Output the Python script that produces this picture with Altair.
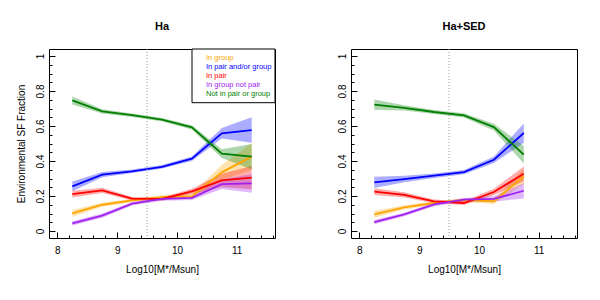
import altair as alt
import pandas as pd

# ---------------- data ----------------
series = ["In group", "In pair and/or group", "In pair", "In group not pair", "Not in pair or group"]
colors = ["#FFA500", "#0000FF", "#FF0000", "#A020F0", "#007F00"]

mass_ha = [8.25, 8.75, 9.25, 9.75, 10.25, 10.75, 11.25]
ha_group = [0.101, 0.150, 0.175, 0.194, 0.198, 0.335, 0.425]
ha_group_err = [0.019, 0.012, 0.010, 0.010, 0.015, 0.042, 0.076]
ha_pairgroup = [0.255, 0.322, 0.341, 0.367, 0.413, 0.558, 0.577]
ha_pairgroup_err = [0.028, 0.015, 0.010, 0.010, 0.013, 0.030, 0.073]
ha_pair = [0.211, 0.232, 0.185, 0.183, 0.226, 0.289, 0.305]
ha_pair_err = [0.019, 0.015, 0.010, 0.010, 0.015, 0.038, 0.067]
ha_groupnotpair = [0.044, 0.088, 0.156, 0.183, 0.189, 0.268, 0.272]
ha_groupnotpair_err = [0.012, 0.012, 0.010, 0.010, 0.012, 0.028, 0.053]
ha_none = [0.746, 0.684, 0.662, 0.636, 0.592, 0.442, 0.425]
ha_none_err = [0.023, 0.012, 0.010, 0.010, 0.012, 0.025, 0.072]

mass_sed = [8.25, 8.75, 9.25, 9.75, 10.25, 10.75]
sed_group = [0.095, 0.135, 0.160, 0.177, 0.169, 0.312]
sed_group_err = [0.019, 0.012, 0.010, 0.010, 0.015, 0.042]
sed_pairgroup = [0.278, 0.297, 0.316, 0.337, 0.407, 0.560]
sed_pairgroup_err = [0.032, 0.019, 0.013, 0.012, 0.019, 0.055]
sed_pair = [0.225, 0.206, 0.169, 0.160, 0.223, 0.327]
sed_pair_err = [0.019, 0.015, 0.011, 0.011, 0.019, 0.042]
sed_groupnotpair = [0.051, 0.095, 0.152, 0.179, 0.183, 0.230]
sed_groupnotpair_err = [0.012, 0.010, 0.010, 0.010, 0.015, 0.044]
sed_none = [0.722, 0.703, 0.680, 0.661, 0.594, 0.436]
sed_none_err = [0.029, 0.015, 0.012, 0.012, 0.019, 0.050]

mass_cut = [9.5]

x_major = [8, 9, 10, 11]
x_ticks = [round(8 + 0.2 * i, 1) for i in range(19)]
y_major = [0, 0.2, 0.4, 0.6, 0.8, 1]
y_ticks = [round(0.05 * i, 2) for i in range(21)]

# ---------------- helpers ----------------
def build(mass, vals, errs):
    rows = []
    for s, v, e in zip(series, vals, errs):
        for m, f, d in zip(mass, v, e):
            rows.append({"mass": m, "frac": f, "lo": f - d, "hi": f + d, "series": s})
    return pd.DataFrame(rows)

df_ha = build(mass_ha,
              [ha_group, ha_pairgroup, ha_pair, ha_groupnotpair, ha_none],
              [ha_group_err, ha_pairgroup_err, ha_pair_err, ha_groupnotpair_err, ha_none_err])
df_sed = build(mass_sed,
               [sed_group, sed_pairgroup, sed_pair, sed_groupnotpair, sed_none],
               [sed_group_err, sed_pairgroup_err, sed_pair_err, sed_groupnotpair_err, sed_none_err])

W, H = 226, 189
FONT = "Liberation Sans"
xs = alt.Scale(domain=[7.86, 11.64], nice=False, zero=False)
ys = alt.Scale(domain=[-0.04, 1.04], nice=False, zero=False)
cs = alt.Scale(domain=series, range=colors)


def panel(df, title, ytitle, legend):
    x_lab_axis = alt.Axis(values=x_major, format="d", ticks=False, tickSize=0, domain=False,
                          grid=False, labelPadding=7, labelFlush=False, labelOverlap=False,
                          title="Log10[M*/Msun]", titlePadding=9)
    y_lab_kwargs = dict(values=y_major, format="~g", ticks=False, tickSize=0, domain=False,
                        grid=False, labelAngle=270, labelAlign="center", labelBaseline="bottom",
                        labelPadding=4, labelFlush=False, labelOverlap=False, titlePadding=9)
    if ytitle:
        y_lab_axis = alt.Axis(title=ytitle, **y_lab_kwargs)
    else:
        y_lab_axis = alt.Axis(title=None, **y_lab_kwargs)

    x_tick_axis = alt.Axis(orient="top", offset=-H, values=x_ticks, labels=False, domain=False,
                           grid=False, title=None, tickColor="black", tickWidth=1,
                           tickSize={"condition": {"test": "abs(datum.value - round(datum.value)) < 0.01", "value": 6}, "value": 3})
    y_tick_axis = alt.Axis(orient="right", offset=-W, values=y_ticks, labels=False, domain=False,
                           grid=False, title=None, tickColor="black", tickWidth=1,
                           tickSize={"condition": {"test": "abs(datum.value * 5 - round(datum.value * 5)) < 0.01", "value": 6}, "value": 3})

    bands = alt.Chart(df).mark_area(opacity=0.32).encode(
        x=alt.X("mass:Q", scale=xs, axis=x_lab_axis),
        y=alt.Y("lo:Q", scale=ys, axis=y_lab_axis, stack=None),
        y2="hi:Q",
        color=alt.Color("series:N", scale=cs, legend=None),
    )
    lines = alt.Chart(df).mark_line(strokeWidth=1.8).encode(
        x=alt.X("mass:Q", scale=xs, axis=x_tick_axis),
        y=alt.Y("frac:Q", scale=ys, axis=y_tick_axis),
        color=alt.Color("series:N", scale=cs, legend=None),
        order=alt.Order("mass:Q"),
    )
    cut = alt.Chart(pd.DataFrame({"m": mass_cut})).mark_rule(
        color="#9a9a9a", strokeDash=[1, 2], strokeWidth=1
    ).encode(x=alt.X("m:Q", scale=xs, axis=None))

    layers = [bands, lines, cut]
    if legend:
        box = alt.Chart(pd.DataFrame({"a": [0]})).mark_rect(
            fill="white", stroke="black", strokeWidth=1
        ).encode(x=alt.value(143), x2=alt.value(W), y=alt.value(0), y2=alt.value(53.7))
        leg = alt.Chart(pd.DataFrame({"series": series, "i": list(range(len(series)))})).transform_calculate(
            ly="9.3 + 9 * datum.i"
        ).mark_text(align="left", baseline="middle", fontSize=7.5, font=FONT).encode(
            x=alt.value(157),
            y=alt.Y("ly:Q", scale=None, axis=None),
            text="series:N",
            color=alt.Color("series:N", scale=cs, legend=None),
        )
        layers += [box, leg]

    return alt.layer(*layers).resolve_axis(x="independent", y="independent").properties(
        width=W, height=H,
        title=alt.TitleParams(title, fontSize=11, fontWeight="bold", font=FONT, anchor="middle",
                              frame="group", offset=8, baseline="alphabetic", color="black"),
    )


left = panel(df_ha, "Ha", "Environmental SF Fraction", True)
right = panel(df_sed, "Ha+SED", None, False)

chart = alt.hconcat(left, right, spacing=60).properties(
    padding={"left": 7, "top": 12, "right": 5, "bottom": 5}
).configure_view(stroke="black", strokeWidth=1).configure_axis(
    labelFont=FONT, titleFont=FONT, labelFontSize=10, titleFontSize=10,
    titleFontWeight="normal", labelColor="black", titleColor="black",
)

chart.save("out.html", embed_options={"renderer": "svg", "actions": False})
